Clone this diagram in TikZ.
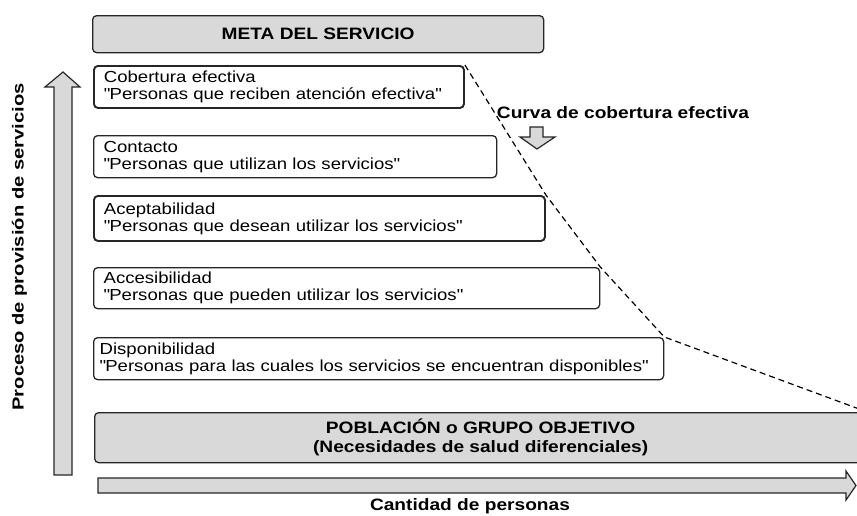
\documentclass[tikz,border=0pt]{standalone}
\usepackage{fontspec}
\setmainfont{Liberation Sans}[FakeStretch=1.16]
\newfontfamily\sidefont{Liberation Sans}[FakeStretch=1.26]
\definecolor{bandgray}{HTML}{D9D9D9}
\newcommand{\stagetext}[2]{#1\\\mbox{\textquotedbl#2\textquotedbl}}
\begin{document}
\begin{tikzpicture}[x=1pt,y=-1pt,
 stage/.style={draw=black!85,line width=1.3pt,rounded corners=4pt,anchor=north west,align=left,inner xsep=10pt,inner ysep=0pt,font=\fontsize{16}{17}\selectfont},
 band/.style={draw=black!85,line width=1.3pt,fill=bandgray,rounded corners=4pt,anchor=north west,inner sep=0pt,align=center,font=\bfseries\fontsize{16.5}{19}\selectfont},
 blockarrow/.style={draw=black!85,line width=1.2pt,fill=bandgray,line join=miter},
 curve/.style={line width=1.2pt,dash pattern=on 6pt off 4pt},
 tag/.style={font=\bfseries\fontsize{16.5}{19}\selectfont}]
\useasboundingbox(0,0)rectangle(857,515);
%bands
\node[band,minimum width=451pt,minimum height=37pt](meta)at(92,15){META DEL SERVICIO};
\node[band,minimum width=772pt,minimum height=50pt](pob)at(94,412){POBLACIÓN o GRUPO OBJETIVO\\(Necesidades de salud diferenciales)};
%stages
\node[stage,line width=1.9pt,text width=350pt,minimum height=42pt](cob)at(93,65){\stagetext{Cobertura efectiva}{Personas que reciben atención efectiva}};
\node[stage,text width=383pt,minimum height=42pt](cont)at(93,135){\stagetext{Contacto}{Personas que utilizan los servicios}};
\node[stage,line width=1.9pt,text width=431pt,minimum height=45pt](acep)at(93,195){\stagetext{Aceptabilidad}{Personas que desean utilizar los servicios}};
\node[stage,text width=486pt,minimum height=41pt](acc)at(93,267){\stagetext{Accesibilidad}{Personas que pueden utilizar los servicios}};
\node[stage,inner xsep=6pt,text width=558pt,minimum height=42pt](disp)at(93,337){\stagetext{Disponibilidad}{Personas para las cuales los servicios se encuentran disponibles}};
%curve
\draw[curve](cob.north east)--(acep.north east)--(acc.north east)--(disp.north east)--(pob.north east);
\node[tag](curva)at(623,113){Curva de cobertura efectiva};
\draw[blockarrow](530,127)--(543,127)--(543,137)--(555,137)--(537,149)--(520,137)--(530,137)--cycle;
%axes
\draw[blockarrow](54,475)--(54,87)--(45,87)--(63,72)--(80,87)--(72,87)--(72,475)--cycle;
\draw[blockarrow](98,478)--(846,478)--(846,471)--(856,485.5)--(846,500)--(846,493)--(98,493)--cycle;
\node[rotate=90,font=\sidefont\bfseries\fontsize{16}{19}\selectfont](proc)at(19.5,247){Proceso de provisión de servicios};
\node[tag](cant)at(470,506){Cantidad de personas};
\end{tikzpicture}
\end{document}
